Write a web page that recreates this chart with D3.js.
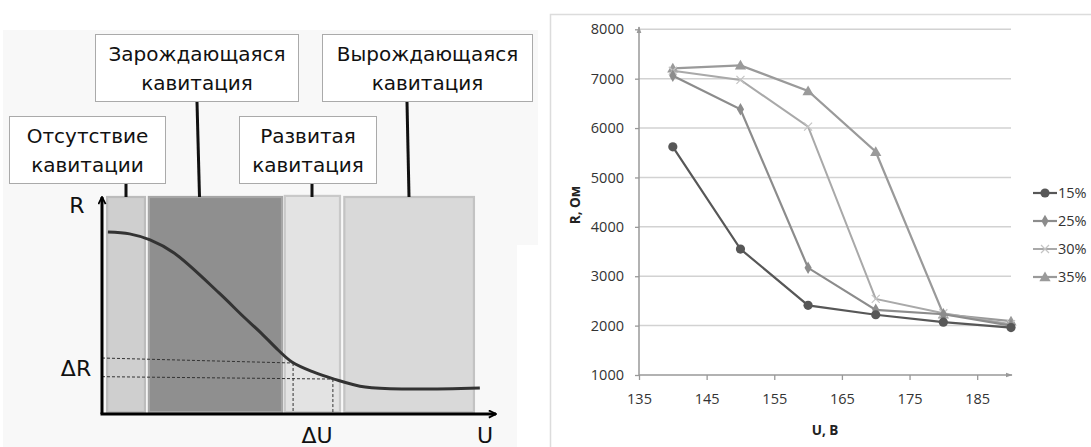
<!DOCTYPE html>
<html><head><meta charset="utf-8">
<script src="https://cdn.jsdelivr.net/npm/d3@7"></script>
<style>body{margin:0;background:#fff}svg{display:block}</style>
</head><body>
<svg id="c" width="1091" height="447"></svg>
<script>
// ===== Right chart data =====
const voltages = [140, 150, 160, 170, 180, 190];
const seriesNames = ["15%", "25%", "30%", "35%"];
const r15 = [5620, 3550, 2410, 2220, 2070, 1960];
const r25 = [7060, 6380, 3170, 2320, 2230, 2000];
const r30 = [7160, 6975, 6030, 2540, 2250, 2030];
const r35 = [7210, 7270, 6750, 5520, 2230, 2090];
const xTickValues = [135, 145, 155, 165, 175, 185];
const yTickValues = [1000, 2000, 3000, 4000, 5000, 6000, 7000, 8000];
const xTitle = "U, В";
const yTitle = "R, Ом";

// ===== Left schematic data (arbitrary units 0..100) =====
const regionLabels = [["Отсутствие", "кавитации"], ["Зарождающаяся", "кавитация"], ["Развитая", "кавитация"], ["Вырождающаяся", "кавитация"]];
const regionStart = [1.3, 11.9, 46.4, 61.5];
const regionEnd = [10.9, 45.7, 60.4, 94.4];
const curveU = [1.5, 7.0, 12.2, 18.3, 29.7, 36.0, 40.4, 44.7, 48.2, 53.6, 58.9, 66.8, 78.4, 95.9];
const curveR = [83.9, 83.0, 80.2, 74.2, 55.8, 44.7, 37.3, 29.5, 24.0, 19.4, 16.1, 12.4, 11.5, 12.0];
const deltaU = [48.5, 58.6];
const deltaRLeft = [25.8, 17.2];
const deltaRRight = [23.5, 16.1];

const svg = d3.select("#c");

// ---------- LEFT PANEL ----------
svg.append("path").attr("d", "M3,30H538V245H517V447H3Z").attr("fill", "#f8f8f8");

const sx = d3.scaleLinear().domain([0, 100]).range([102, 496]);
const sy = d3.scaleLinear().domain([0, 100]).range([414, 197]);

const bandFill = ["#cfcfcf", "#8f8f8f", "#e3e3e3", "#d9d9d9"];
const bandStroke = ["#bcbcbc", "#a6a6a6", "#c9c9c9", "#c3c3c3"];
const bandTop = [100, 100, 100.5, 100];
regionStart.forEach((s, i) => {
  svg.append("rect")
    .attr("x", sx(s)).attr("y", sy(bandTop[i]))
    .attr("width", sx(regionEnd[i]) - sx(s)).attr("height", sy(0.9) - sy(bandTop[i]))
    .attr("fill", bandFill[i]).attr("stroke", bandStroke[i]).attr("stroke-width", 2.2);
});

// dashed helper lines
const g = svg.append("g").attr("stroke", "#333").attr("stroke-width", 1).attr("stroke-dasharray", "3,2").attr("fill", "none");
deltaU.forEach((u, i) => {
  g.append("line").attr("x1", sx(0)).attr("y1", sy(deltaRLeft[i])).attr("x2", sx(u)).attr("y2", sy(deltaRRight[i]));
  g.append("line").attr("x1", sx(u)).attr("y1", sy(deltaRRight[i])).attr("x2", sx(u)).attr("y2", sy(0));
});

// curve
const curvePts = curveU.map((u, i) => [u, curveR[i]]);
svg.append("path").datum(curvePts)
  .attr("d", d3.line().x(d => sx(d[0])).y(d => sy(d[1])).curve(d3.curveCatmullRom.alpha(0.5)))
  .attr("fill", "none").attr("stroke", "#333").attr("stroke-width", 3);

// axes with arrows
svg.append("defs").append("marker").attr("id", "arr").attr("viewBox", "0 0 10 10")
  .attr("refX", 9).attr("refY", 5).attr("markerWidth", 9).attr("markerHeight", 9)
  .attr("markerUnits", "userSpaceOnUse").attr("orient", "auto")
  .append("path").attr("d", "M1,1L9,5L1,9").attr("fill", "none").attr("stroke", "#000").attr("stroke-width", 2);
svg.append("line").attr("x1", sx(0)).attr("y1", sy(0)).attr("x2", sx(0)).attr("y2", 197)
  .attr("stroke", "#000").attr("stroke-width", 3).attr("marker-end", "url(#arr)");
svg.append("line").attr("x1", sx(0) - 1.5).attr("y1", sy(0)).attr("x2", sx(100)).attr("y2", sy(0))
  .attr("stroke", "#000").attr("stroke-width", 3).attr("marker-end", "url(#arr)");

const lf = "'DejaVu Sans', sans-serif";
function label(t, x, y, anchor) {
  svg.append("text").attr("x", x).attr("y", y).attr("text-anchor", anchor || "middle")
    .attr("font-family", lf).attr("font-size", 22).attr("fill", "#111").text(t);
}
label("R", 77, 213);
label("ΔR", 76, 376);
label("ΔU", 317, 443);
label("U", 485, 443);

// label boxes
const boxes = [
  {x: 9, y: 116, w: 156, h: 67, cx: [126, 126]},
  {x: 95, y: 34, w: 203, h: 67, cx: [197, 199.5]},
  {x: 239, y: 116, w: 137, h: 67, cx: [312, 312]},
  {x: 322, y: 34, w: 210, h: 67, cx: [407, 409]}
];
boxes.forEach((b, i) => {
  svg.append("rect").attr("x", b.x + 0.5).attr("y", b.y + 0.5).attr("width", b.w).attr("height", b.h)
    .attr("fill", "#fff").attr("stroke", "#aaa").attr("stroke-width", 1);
  svg.append("line").attr("x1", b.cx[0]).attr("y1", b.y + b.h + 1).attr("x2", b.cx[1]).attr("y2", 197)
    .attr("stroke", "#111").attr("stroke-width", 3);
  regionLabels[i].forEach((t, j) => {
    svg.append("text").attr("x", b.x + b.w / 2 + 0.5).attr("y", b.y + 27 + j * 28.5)
      .attr("text-anchor", "middle").attr("font-family", lf).attr("font-size", 20).attr("fill", "#111").text(t);
  });
});

// ---------- RIGHT PANEL ----------
svg.append("path").attr("d", "M550.5,447V14.5H1091").attr("fill", "none").attr("stroke", "#dcdcdc").attr("stroke-width", 1.5);

const x = d3.scaleLinear().domain([135, 190]).range([639, 1011]);
const y = d3.scaleLinear().domain([1000, 8000]).range([375, 29.3]);
const rf = "'Open Sans', sans-serif";

// gridlines
svg.append("g").selectAll("line").data(yTickValues.filter(v => v > 1000)).join("line")
  .attr("x1", x(135)).attr("x2", x(190)).attr("y1", d => y(d)).attr("y2", d => y(d))
  .attr("stroke", "#d2d2d2").attr("stroke-width", 1.5);

// axes
const axisCol = "#999";
svg.append("defs").append("marker").attr("id", "arr2").attr("viewBox", "0 0 10 10")
  .attr("refX", 9).attr("refY", 5).attr("markerWidth", 7).attr("markerHeight", 7)
  .attr("markerUnits", "userSpaceOnUse").attr("orient", "auto")
  .append("path").attr("d", "M0,1.5L10,5L0,8.5Z").attr("fill", axisCol);

const yAxis = d3.axisLeft(y).tickValues(yTickValues).tickFormat(d3.format("d")).tickSize(4).tickPadding(11);
const yg = svg.append("g").attr("transform", `translate(${x(135)},0)`).call(yAxis);
const xAxis = d3.axisBottom(x).tickValues(xTickValues).tickFormat(d3.format("d")).tickSize(5).tickPadding(14);
const xg = svg.append("g").attr("transform", `translate(0,${y(1000)})`).call(xAxis);
[yg, xg].forEach(gg => {
  gg.select(".domain").remove();
  gg.selectAll(".tick line").attr("stroke", axisCol).attr("stroke-width", 1.3);
  gg.selectAll("text").attr("font-family", rf).attr("font-size", 14.5).attr("fill", "#333");
});
svg.append("line").attr("x1", x(135)).attr("y1", y(1000)).attr("x2", x(135)).attr("y2", 27)
  .attr("stroke", axisCol).attr("stroke-width", 1.5).attr("marker-end", "url(#arr2)");
svg.append("line").attr("x1", x(135)).attr("y1", y(1000)).attr("x2", x(190) + 1).attr("y2", y(1000))
  .attr("stroke", axisCol).attr("stroke-width", 1.5).attr("marker-end", "url(#arr2)");

// titles
svg.append("text").attr("x", 825).attr("y", 435).attr("text-anchor", "middle")
  .attr("font-family", rf).attr("font-weight", "bold").attr("font-size", 13.5).attr("fill", "#222").text(xTitle);
svg.append("text").attr("transform", "translate(580,205) rotate(-90)").attr("text-anchor", "middle")
  .attr("font-family", rf).attr("font-weight", "bold").attr("font-size", 13.5).attr("fill", "#222").text(yTitle);

// series
const allSeries = [r15, r25, r30, r35];
const colors = ["#575757", "#8c8c8c", "#a9a9a9", "#9a9a9a"];
const widths = [2.2, 2.2, 2, 2.2];
function marker(sel, i, cx, cy) {
  if (i === 0) sel.append("circle").attr("cx", cx).attr("cy", cy).attr("r", 4.6).attr("fill", colors[i]);
  else if (i === 1) sel.append("path").attr("transform", `translate(${cx},${cy})`).attr("d", d3.symbol(d3.symbolDiamond, 45)()).attr("fill", colors[i]);
  else if (i === 2) sel.append("path").attr("d", `M${cx - 4},${cy - 4}L${cx + 4},${cy + 4}M${cx - 4},${cy + 4}L${cx + 4},${cy - 4}`).attr("stroke", "#c4c4c4").attr("stroke-width", 1.2);
  else sel.append("path").attr("transform", `translate(${cx},${cy + 1})`).attr("d", d3.symbol(d3.symbolTriangle, 55)()).attr("fill", colors[i]);
}
const line = d3.line().x((d, i) => x(voltages[i])).y(d => y(d));
[3, 2, 1, 0].forEach(i => {
  const s = allSeries[i];
  const sg = svg.append("g");
  sg.append("path").datum(s).attr("d", line).attr("fill", "none").attr("stroke", colors[i]).attr("stroke-width", widths[i]);
  s.forEach((v, k) => marker(sg, i, x(voltages[k]), y(v)));
});

// legend
const legY = [193, 221, 249, 277];
seriesNames.forEach((n, i) => {
  const lg = svg.append("g");
  lg.append("line").attr("x1", 1033).attr("x2", 1057).attr("y1", legY[i]).attr("y2", legY[i])
    .attr("stroke", colors[i]).attr("stroke-width", widths[i]);
  marker(lg, i, 1045, legY[i]);
  lg.append("text").attr("x", 1058).attr("y", legY[i] + 5).attr("font-family", rf).attr("font-size", 14.5)
    .attr("fill", "#333").text(n);
});
</script>
</body></html>
